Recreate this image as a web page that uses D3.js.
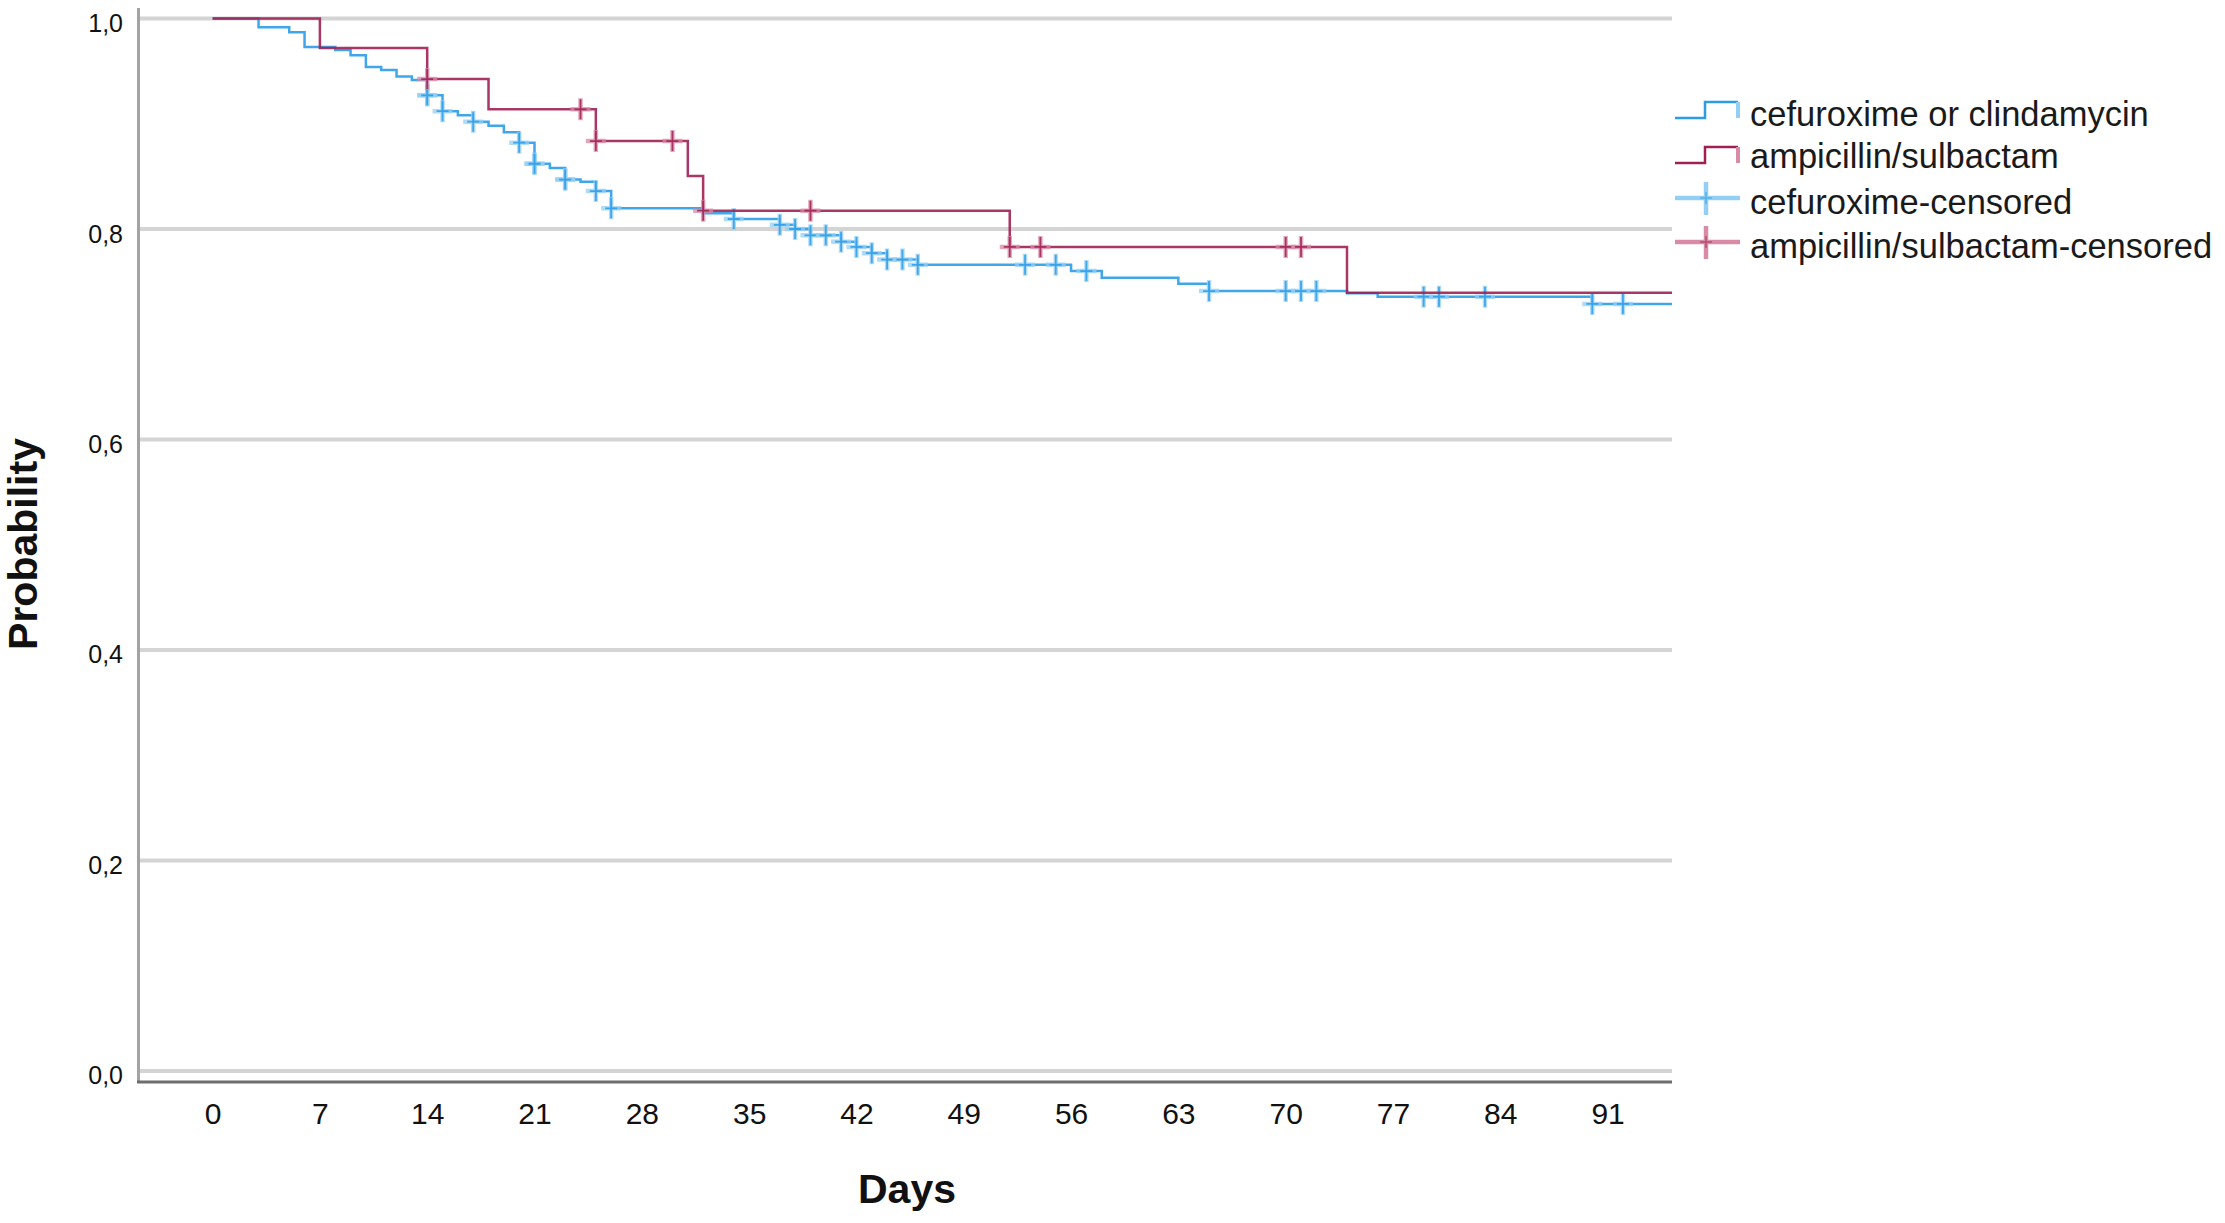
<!DOCTYPE html>
<html>
<head>
<meta charset="utf-8">
<script src="https://cdn.jsdelivr.net/npm/d3@7"></script>
<style>
  body { margin: 0; background: #fff; }
  text { font-family: "Liberation Sans", Arial, sans-serif; fill: #111; }
</style>
</head>
<body>
<div id="chart"></div>
<script>
// ---------- data ----------
const xTicks = [0, 7, 14, 21, 28, 35, 42, 49, 56, 63, 70, 77, 84, 91];
const yTicks = [0, 0.2, 0.4, 0.6, 0.8, 1.0];

// cefuroxime or clindamycin: event times (days) and survival after each step
const cefTimes = [0, 3, 5, 6, 8, 9, 10, 11, 12, 13, 14, 15, 16, 17, 18, 19, 20, 21, 22, 23, 24, 25, 26,
                  32, 34, 37, 38, 39, 41, 42, 43, 44, 46, 56, 58, 63, 65, 74, 76, 90];
const cefSurv  = [1, 0.9916, 0.987, 0.973, 0.970, 0.965, 0.954, 0.951, 0.945, 0.9416, 0.927, 0.912, 0.908,
                  0.902, 0.898, 0.892, 0.882, 0.862, 0.858, 0.847, 0.845, 0.836, 0.8197,
                  0.815, 0.8095, 0.804, 0.800, 0.794, 0.788, 0.783, 0.777, 0.771, 0.766, 0.760, 0.7537,
                  0.748, 0.741, 0.739, 0.7357, 0.7288];
const cefCensored = [14, 14, 15, 17, 20, 21, 21, 23, 23, 25, 26, 34, 37, 38, 39, 40, 41, 42, 43, 44, 45, 46,
                     53, 55, 57, 65, 70, 71, 72, 79, 80, 83, 90, 92];

// ampicillin/sulbactam
const ampTimes = [0, 7, 14, 18, 25, 31, 32, 52, 74];
const ampSurv  = [1, 0.972, 0.9425, 0.9137, 0.8836, 0.8504, 0.8174, 0.783, 0.7395];
const ampCensored = [14, 24, 25, 30, 32, 39, 52, 54, 70, 71];

const legendNames = ["cefuroxime or clindamycin", "ampicillin/sulbactam",
                     "cefuroxime-censored", "ampicillin/sulbactam-censored"];

// ---------- layout ----------
const W = 2225, H = 1223;
const plot = { left: 139, right: 1672, top: 8, bottom: 1082 };
const blue = "#2b9ce8", blueLight = "#93cff5";
const red = "#9e2155", redLight = "#d98aa6";

const svg = d3.select("#chart").append("svg")
    .attr("width", W)
    .attr("height", H);

const x = d3.scaleLinear().domain([-4.8, 95.2]).range([plot.left, plot.right]);
const y = d3.scaleLinear().domain([-0.0105, 1.01]).range([plot.bottom, plot.top]);

// gridlines
svg.append("g").selectAll("line")
    .data(yTicks)
    .enter().append("line")
    .attr("x1", plot.left).attr("x2", plot.right)
    .attr("y1", d => y(d)).attr("y2", d => y(d))
    .attr("stroke", "#d4d4d4")
    .attr("stroke-width", 4);

// axes
const xAxis = svg.append("g")
    .attr("transform", `translate(0, ${plot.bottom})`)
    .call(d3.axisBottom(x).tickValues(xTicks).tickSize(0).tickPadding(20.5));
xAxis.select(".domain").remove();
xAxis.selectAll("text").style("font-size", "30px").style("fill", "#111");

const yAxis = svg.append("g")
    .attr("transform", `translate(${plot.left}, 0)`)
    .call(d3.axisLeft(y).tickValues(yTicks).tickSize(0).tickPadding(16)
        .tickFormat(d => d3.format(".1f")(d).replace(".", ",")));
yAxis.select(".domain").remove();
yAxis.selectAll("text").style("font-size", "25px").attr("dy", "0.52em").style("fill", "#111");

svg.append("line")
    .attr("x1", plot.left - 0.5).attr("x2", plot.left - 0.5)
    .attr("y1", plot.top).attr("y2", plot.bottom)
    .attr("stroke", "#a3a3a3").attr("stroke-width", 3);
svg.append("line")
    .attr("x1", plot.left - 2).attr("x2", plot.right)
    .attr("y1", plot.bottom).attr("y2", plot.bottom)
    .attr("stroke", "#6e6e6e").attr("stroke-width", 3);

// axis titles
svg.append("text")
    .attr("x", 907).attr("y", 1203)
    .attr("text-anchor", "middle")
    .style("font-size", "41px").style("font-weight", "bold")
    .text("Days");
svg.append("text")
    .attr("transform", "translate(37, 544) rotate(-90)")
    .attr("text-anchor", "middle")
    .style("font-size", "41px").style("font-weight", "bold")
    .text("Probability");

// ---------- survival curves ----------
function survAt(times, surv, t) {
    let i = d3.bisectRight(times, t) - 1;
    return surv[Math.max(i, 0)];
}

const line = d3.line()
    .x(d => x(d[0]))
    .y(d => y(d[1]))
    .curve(d3.curveStepAfter);

function drawSeries(times, surv, censored, col, light) {
    const pts = times.map((t, i) => [t, surv[i]]);
    pts.push([x.domain()[1], surv[surv.length - 1]]);

    const g = svg.append("g");
    g.append("path")
        .attr("d", line(pts))
        .attr("fill", "none")
        .attr("stroke", col)
        .attr("stroke-width", 2.5)
        .attr("stroke-opacity", 0.9);

    const marks = g.selectAll(".cens")
        .data(censored)
        .enter().append("g")
        .attr("transform", d => `translate(${x(d)}, ${y(survAt(times, surv, d))})`);
    marks.append("path")
        .attr("d", "M-10,0H10M0,-11V11")
        .attr("stroke", light)
        .attr("stroke-width", 4.5)
        .attr("stroke-opacity", 0.75);
    marks.append("path")
        .attr("d", "M-6,0H6M0,-10V10")
        .attr("stroke", col)
        .attr("stroke-width", 1.8)
        .attr("stroke-opacity", 0.85);
}

drawSeries(cefTimes, cefSurv, cefCensored, blue, blueLight);
drawSeries(ampTimes, ampSurv, ampCensored, red, redLight);

// ---------- legend ----------
const legendBase = [126, 167.5, 214, 257.5];
const legend = svg.append("g");
legend.selectAll("text")
    .data(legendNames)
    .enter().append("text")
    .attr("x", 1750)
    .attr("y", (d, i) => legendBase[i])
    .style("font-size", "34.5px")
    .style("fill", "#1a1a1a")
    .text(d => d);

// step symbols
[[blue, blueLight, 118, 102], [red, redLight, 163, 147]].forEach(([c, l, lo, hi]) => {
    legend.append("path")
        .attr("d", `M1675,${lo}H1705V${hi}H1738`)
        .attr("fill", "none").attr("stroke", c).attr("stroke-width", 2.5);
    legend.append("path")
        .attr("d", `M1738,${hi}V${lo}`)
        .attr("fill", "none").attr("stroke", l).attr("stroke-width", 4);
});
// censor symbols
[[blueLight, blue, 198], [redLight, red, 242]].forEach(([l, c, cy]) => {
    legend.append("path")
        .attr("d", `M1675,${cy}H1740M1706,${cy - 16}V${cy + 17}`)
        .attr("stroke", l).attr("stroke-width", 4.5);
    legend.append("path")
        .attr("d", `M1700,${cy}H1712M1706,${cy - 6}V${cy + 6}`)
        .attr("stroke", c).attr("stroke-width", 1.5).attr("stroke-opacity", 0.6);
});
</script>
</body>
</html>
